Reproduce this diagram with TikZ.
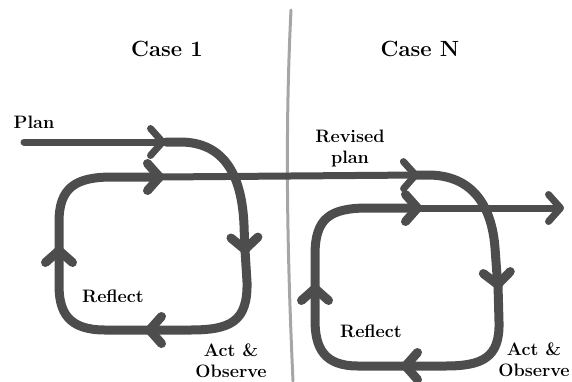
\documentclass[tikz,border=0pt]{standalone}
\usepackage{fontspec}
\usetikzlibrary{arrows.meta}
\definecolor{loopgray}{HTML}{4D4D4D}
\definecolor{divgray}{HTML}{A6A6A6}
\begin{document}
\begin{tikzpicture}[x=1pt,y=-1pt,
    flow/.style={draw=loopgray,line width=7pt,line cap=round,line join=round,
      -{Straight Barb[length=12pt,width=27pt,round]}},
    loopline/.style={flow,line width=9pt},
    label/.style={font=\bfseries\fontsize{18}{21}\selectfont,align=center,inner sep=0pt},
    title/.style={font=\bfseries\fontsize{22}{24}\selectfont,inner sep=0pt}]
    \useasboundingbox (0,0) rectangle (572,381);
    \draw[divgray,line width=3pt,line cap=round] (291,10) .. controls (285,130) and (287,250) .. (293,381);
    \node[title] (case1) at (167,49) {Case 1};
    \node[title] (caseN) at (420,49) {Case N};
    % case 1
    \draw[flow] (24,142) -- (166,142);
    \draw[loopline] (166,142) -- (180,142) .. controls (226,142) and (242,178) .. (244,225) -- (245,254);
    \draw[loopline] (245,250) -- (247,282) .. controls (248,322) and (230,330) .. (190,330) -- (145,330);
    \draw[loopline] (150,330) -- (105,330) .. controls (68,330) and (59,312) .. (59,285) -- (59,246);
    \draw[loopline] (59,250) -- (59,222) .. controls (59,188) and (75,177) .. (112,177) -- (164,177);
    \draw[flow] (160,177) -- (290,176) -- (419,175);
    % case N
    \draw[loopline] (415,175) -- (428,175) .. controls (474,175) and (492,208) .. (495,248) -- (498,289);
    \draw[loopline] (498,285) -- (499,322) .. controls (500,358) and (482,366) .. (445,366) -- (401,366);
    \draw[loopline] (405,366) -- (358,366) .. controls (324,366) and (315,348) .. (315,320) -- (315,284);
    \draw[loopline] (315,290) -- (315,255) .. controls (315,218) and (330,208) .. (368,208) -- (422,208);
    \draw[flow] (418,208) -- (564,208);
    \node[label] (plan) at (34,122) {Plan};
    \node[label] (reflect1) at (113,296) {Reflect};
    \node[label] (act1) at (231,361) {Act \&\\Observe};
    \node[label] (revised) at (350,148) {Revised\\plan};
    \node[label] (reflectN) at (371,331) {Reflect};
    \node[label] (actN) at (534,360) {Act \&\\Observe};
\end{tikzpicture}
\end{document}
